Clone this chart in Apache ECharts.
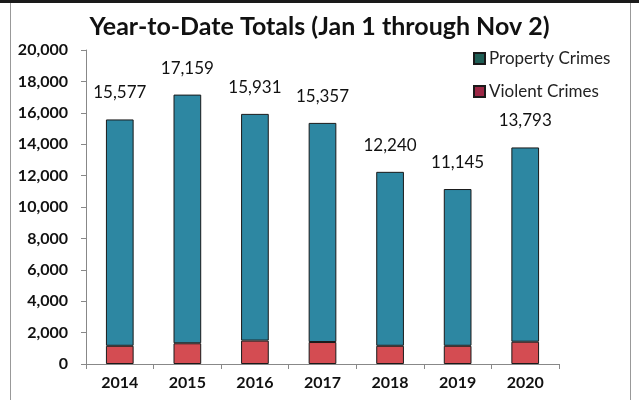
<!DOCTYPE html>
<html>
<head>
<meta charset="utf-8">
<script src="https://cdn.jsdelivr.net/npm/echarts@6/dist/echarts.min.js"></script>
<style>
  html, body { margin: 0; padding: 0; background: #ffffff; }
  #chart { width: 639px; height: 400px; }
</style>
</head>
<body>
<div id="chart"></div>
<script>
// Year-to-date crime totals, Jan 1 through Nov 2
const years = ['2014', '2015', '2016', '2017', '2018', '2019', '2020'];
const totals = [15577, 17159, 15931, 15357, 12240, 11145, 13793];
const violentCrimes = [1160, 1320, 1490, 1400, 1160, 1160, 1420];
const propertyCrimes = totals.map((t, i) => t - violentCrimes[i]);
const yTicks = { min: 0, max: 20000, interval: 2000 };

const FONT = 'Lato, "Open Sans", sans-serif';
const chart = echarts.init(document.getElementById('chart'), null, { renderer: 'canvas' });

chart.setOption({
  backgroundColor: '#ffffff',
  animation: false,
  textStyle: { fontFamily: FONT },
  title: {
    text: 'Year-to-Date Totals (Jan 1 through Nov 2)',
    left: 'center',
    top: 9,
    textStyle: { fontFamily: FONT, fontSize: 25, fontWeight: 'bold', color: '#111' }
  },
  legend: {
    orient: 'vertical',
    left: 468,
    top: 45,
    itemGap: 16,
    itemWidth: 11,
    itemHeight: 11,
    icon: 'rect',
    textStyle: { fontFamily: FONT, fontSize: 17, color: '#222', padding: [0, 0, 0, -1] },
    data: [
      { name: 'Property Crimes', itemStyle: { color: '#1f5e55' } },
      { name: 'Violent Crimes', itemStyle: { color: '#9b2745' } }
    ]
  },
  grid: { left: 86, right: 80, top: 50, bottom: 36 },
  xAxis: {
    type: 'category',
    data: years,
    axisLine: { lineStyle: { color: '#888', width: 1 } },
    axisTick: { show: true, length: 5, lineStyle: { color: '#888' } },
    axisLabel: { fontFamily: FONT, fontSize: 16, fontWeight: 'bold', color: '#111', margin: 11 }
  },
  yAxis: {
    type: 'value',
    min: yTicks.min,
    max: yTicks.max,
    interval: yTicks.interval,
    splitLine: { show: false },
    axisLine: { show: true, lineStyle: { color: '#888', width: 1 } },
    axisTick: { show: true, inside: false, length: 5, lineStyle: { color: '#888' } },
    axisLabel: {
      fontFamily: FONT, fontSize: 16, fontWeight: 'bold', color: '#111', margin: 18,
      formatter: v => v.toLocaleString('en-US')
    }
  },
  series: [
    {
      name: 'Violent Crimes',
      type: 'bar',
      stack: 'crimes',
      barWidth: '41%',
      data: violentCrimes,
      itemStyle: { color: '#d44c52', borderColor: '#1a1a1a', borderWidth: 1 }
    },
    {
      name: 'Property Crimes',
      type: 'bar',
      stack: 'crimes',
      barWidth: '41%',
      data: propertyCrimes,
      itemStyle: { color: '#2d87a2', borderColor: '#1a1a1a', borderWidth: 1 },
      label: {
        show: true,
        position: 'top',
        distance: 18,
        fontFamily: FONT,
        fontSize: 17,
        color: '#111',
        formatter: p => totals[p.dataIndex].toLocaleString('en-US')
      }
    }
  ],
  graphic: [
    { type: 'line', shape: { x1: 0, y1: 1.5, x2: 639, y2: 1.5 }, style: { stroke: '#1a1a1a', lineWidth: 3 } },
    { type: 'line', shape: { x1: 10.5, y1: 3, x2: 10.5, y2: 400 }, style: { stroke: '#999', lineWidth: 1 } },
    { type: 'line', shape: { x1: 630.5, y1: 3, x2: 630.5, y2: 400 }, style: { stroke: '#999', lineWidth: 1 } }
  ]
});
</script>
</body>
</html>
